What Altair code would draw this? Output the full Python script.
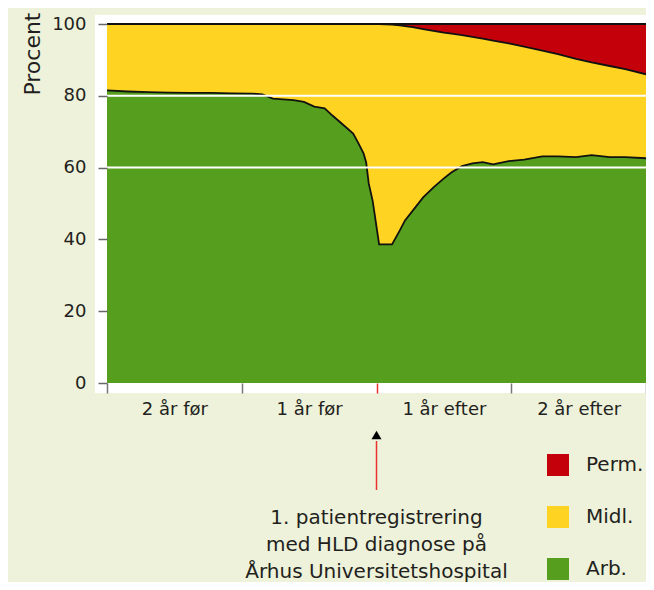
import altair as alt
import pandas as pd

# weeks relative to first registration with HLD diagnosis
weeks = [-104, -96, -88, -80, -72, -64, -56, -48, -44, -40, -36, -32, -28, -24, -20,
         -17, -13, -9, -7, -5, -4, -3, -1.5, -0.5, 1, 6, 9, 11, 14, 18, 22, 26, 29,
         33, 37, 41, 45, 51, 57, 64, 70, 77, 83, 90, 96, 104]
arb = [81.5, 81.2, 81.0, 80.9, 80.8, 80.8, 80.7, 80.6, 80.4, 79.2, 79.0, 78.8, 78.3, 77.0, 76.5,
       74.5, 72.0, 69.5, 66.8, 64.0, 61.5, 55.6, 50.8, 46.0, 38.6, 38.6, 42.5, 45.3, 48.0, 51.7,
       54.5, 57.0, 58.7, 60.4, 61.2, 61.5, 60.9, 61.8, 62.2, 63.1, 63.1, 62.9, 63.5, 62.9, 62.9, 62.6]
midl = [18.5, 18.8, 19.0, 19.1, 19.2, 19.2, 19.3, 19.4, 19.6, 20.8, 21.0, 21.2, 21.7, 23.0, 23.5,
        25.5, 28.0, 30.5, 33.2, 36.0, 38.5, 44.4, 49.2, 54.0, 61.4, 61.2, 57.1, 54.1, 51.1, 46.9,
        43.6, 40.6, 38.6, 36.5, 35.2, 34.4, 34.5, 32.8, 31.5, 29.5, 28.5, 27.4, 25.8, 25.4, 24.5, 23.4]
perm = [0, 0, 0, 0, 0, 0, 0, 0, 0, 0, 0, 0, 0, 0, 0,
        0, 0, 0, 0, 0, 0, 0, 0, 0, 0, 0.2, 0.4, 0.6, 0.9, 1.4,
        1.9, 2.4, 2.7, 3.1, 3.6, 4.1, 4.6, 5.4, 6.3, 7.4, 8.4, 9.7, 10.7, 11.7, 12.6, 14.0]

categories = ["Perm.", "Midl.", "Arb."]
colors = ["#C4000B", "#FED321", "#569E1E"]
stack_order = {"Arb.": 0, "Midl.": 1, "Perm.": 2}

period_ticks = [-104, -52, 0, 52, 104]
period_label_pos = [-78, -26, 26, 78]
period_labels = ["2 år før", "1 år før", "1 år efter", "2 år efter"]
y_ticks = [0, 20, 40, 60, 80, 100]
gridlines = [60, 80]
event_week = [0]
annotation = ["1. patientregistrering", "med HLD diagnose på", "Århus Universitetshospital"]

FONT = "DejaVu Sans"
TXT = "#231F20"
W, H = 539, 359

rows = []
for i, w in enumerate(weeks):
    for cat, vals in (("Arb.", arb), ("Midl.", midl), ("Perm.", perm)):
        rows.append({"uge": w, "kategori": cat, "procent": vals[i], "orden": stack_order[cat]})
df = pd.DataFrame(rows)

tick_list = "[" + ",".join(str(t) for t in period_ticks) + "]"
pos_list = "[" + ",".join(str(t) for t in period_label_pos) + "]"
lab_list = "[" + ",".join("'" + s + "'" for s in period_labels) + "]"
label_expr = f"indexof({pos_list}, datum.value) >= 0 ? {lab_list}[indexof({pos_list}, datum.value)] : ''"

x_scale = alt.Scale(domain=[-104, 104], nice=False, zero=False)
y_scale = alt.Scale(domain=[0, 100], nice=False)

x_axis = alt.Axis(
    values=sorted(period_ticks + period_label_pos), labelExpr=label_expr, title=None,
    grid=False, domain=False, tickSize=10, tickWidth=1.5,
    tickColor={"condition": {"test": "datum.value === 0", "value": "#E8322E"}, "value": "#777777"},
    tickOpacity={"condition": {"test": f"indexof({tick_list}, datum.value) >= 0", "value": 1}, "value": 0},
    labelFont=FONT, labelFontSize=18, labelColor=TXT, labelPadding=7, zindex=1,
)
y_axis = alt.Axis(
    values=y_ticks, title="Procent", grid=False, domain=False, tickSize=9, tickWidth=1.5,
    tickColor="#666666", labelFont=FONT, labelFontSize=18, labelColor=TXT, labelPadding=12,
    titleFont=FONT, titleFontSize=22, titleFontWeight="normal", titleColor=TXT,
    titleAngle=-90, titleAlign="right", titleBaseline="alphabetic", titleX=-68, titleY=-12,
    zindex=1,
)

panel = alt.Chart(pd.DataFrame({"p": [1]})).mark_rect(color="white").encode(
    x=alt.value(-12), x2=alt.value(W + 8), y=alt.value(-9), y2=alt.value(H + 10)
)

areas = alt.Chart(df).mark_area(opacity=1).encode(
    x=alt.X("uge:Q", scale=x_scale, axis=x_axis),
    y=alt.Y("procent:Q", stack="zero", scale=y_scale, axis=y_axis),
    color=alt.Color(
        "kategori:N",
        scale=alt.Scale(domain=categories, range=colors),
        legend=alt.Legend(
            title=None, orient="none", legendX=440, legendY=430, symbolType="square",
            symbolSize=484, symbolStrokeWidth=0, labelFont=FONT, labelFontSize=20,
            labelColor=TXT, labelOffset=17, rowPadding=30, padding=0,
        ),
    ),
    order=alt.Order("orden:Q"),
)

outlines = alt.Chart(df).mark_line(color="#111111", strokeWidth=1.8).encode(
    x=alt.X("uge:Q", scale=x_scale),
    y=alt.Y("procent:Q", stack="zero", scale=y_scale),
    detail="kategori:N",
    order=alt.Order("orden:Q"),
)

grid = alt.Chart(pd.DataFrame({"g": gridlines})).mark_rule(color="white", strokeWidth=2).encode(
    y=alt.Y("g:Q", scale=y_scale)
)

ev = pd.DataFrame({"uge": event_week, "txt": ["\n".join(annotation)]})
arrow_line = alt.Chart(ev).mark_rule(color="#E8322E", strokeWidth=1.5).encode(
    x=alt.X("uge:Q", scale=x_scale), y=alt.value(417), y2=alt.value(466)
)
arrow_head = alt.Chart(ev).mark_point(shape="triangle-up", filled=True, size=100, color="black", opacity=1).encode(
    x=alt.X("uge:Q", scale=x_scale), y=alt.value(411)
)
note = alt.Chart(ev).mark_text(
    font=FONT, fontSize=20, color=TXT, lineBreak="\n", lineHeight=27, align="center", baseline="middle"
).encode(x=alt.X("uge:Q", scale=x_scale), y=alt.value(494), text="txt:N")

chart = alt.layer(panel, areas, outlines, grid, arrow_line, arrow_head, note).properties(
    width=W, height=H,
    autosize=alt.AutoSizeParams(type="none"),
    padding={"left": 99, "top": 16, "right": 0, "bottom": 199},
    background="#EEF2DA",
).configure_view(stroke="#222222", strokeWidth=1.5, fill="white")

chart.save("out.html", embed_options={"renderer": "svg", "actions": False})
